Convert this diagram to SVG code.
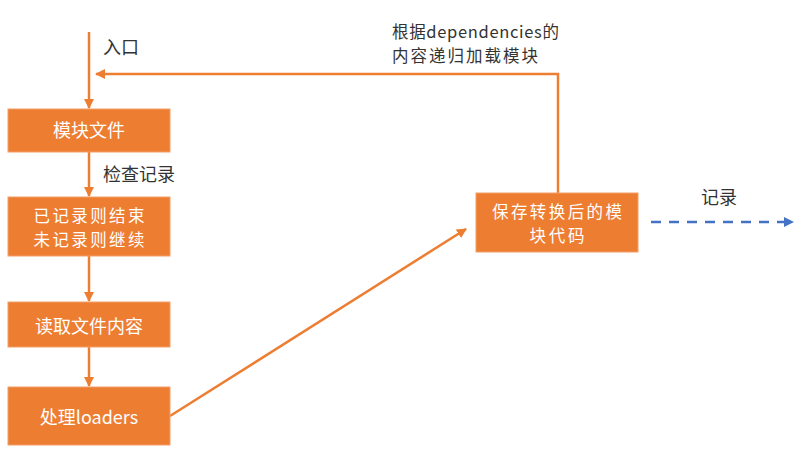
<svg xmlns="http://www.w3.org/2000/svg" width="807" height="458" viewBox="0 0 807 458">
<defs>
<style>
.box{fill:#ED7D31;stroke:#F4A06A;stroke-width:1}
.bt{fill:#fff;font-family:"Noto Sans CJK SC","Noto Sans",sans-serif;font-size:18px;text-anchor:middle}
.lb{fill:#333;font-family:"Noto Sans CJK SC","Noto Sans",sans-serif;font-size:18px}
.two{font-size:16.5px}
.ln{fill:none;stroke:#ED7D31;stroke-width:2.5}
.dl{fill:none;stroke:#4472C4;stroke-width:2.5;stroke-dasharray:10 8}
</style>
<marker id="ao" viewBox="0 0 10 10" refX="9" refY="5" markerWidth="4" markerHeight="4" orient="auto" markerUnits="strokeWidth"><path d="M0,0 L10,5 L0,10 z" fill="#ED7D31"/></marker>
<marker id="ab" viewBox="0 0 10 10" refX="9" refY="5" markerWidth="4" markerHeight="4" orient="auto" markerUnits="strokeWidth"><path d="M0,0 L10,5 L0,10 z" fill="#4472C4"/></marker>
</defs>
<rect width="807" height="458" fill="#fff"/>
<g id="connectors">
<line class="ln" x1="89" y1="32" x2="89" y2="108" marker-end="url(#ao)"/>
<line class="ln" x1="89" y1="152" x2="89" y2="196" marker-end="url(#ao)"/>
<line class="ln" x1="89" y1="256" x2="89" y2="301" marker-end="url(#ao)"/>
<line class="ln" x1="89" y1="347" x2="89" y2="386" marker-end="url(#ao)"/>
<polyline class="ln" points="558,193 558,74 96,74" marker-end="url(#ao)"/>
<line class="ln" x1="170" y1="416" x2="466" y2="229" marker-end="url(#ao)"/>
<line class="dl" x1="651" y1="222" x2="793" y2="222" marker-end="url(#ab)"/>
</g>
<g id="label-entry"><text class="lb" x="103" y="54">入口</text></g>
<g id="label-check"><text class="lb" x="103" y="181">检查记录</text></g>
<g id="label-deps"><text class="lb two" x="392" y="38"><tspan x="392" y="38" textLength="167">根据dependencies的</tspan><tspan x="392" y="62" textLength="146">内容递归加载模块</tspan></text></g>
<g id="label-record"><text class="lb" x="701" y="204">记录</text></g>
<g id="n1"><rect class="box" x="8" y="109" width="162" height="43"/><text class="bt" x="89" y="137">模块文件</text></g>
<g id="n2"><rect class="box" x="8" y="197" width="162" height="59"/><text class="bt two" x="89" y="222"><tspan x="89" y="222" textLength="111">已记录则结束</tspan><tspan x="89" y="246" textLength="111">未记录则继续</tspan></text></g>
<g id="n3"><rect class="box" x="8" y="302" width="162" height="45"/><text class="bt" x="89" y="333">读取文件内容</text></g>
<g id="n4"><rect class="box" x="8" y="387" width="162" height="58"/><text class="bt" x="89" y="424">处理loaders</text></g>
<g id="n5"><rect class="box" x="476" y="193" width="162" height="59"/><text class="bt two" x="557" y="218"><tspan x="557" y="218" textLength="130">保存转换后的模</tspan><tspan x="557" y="242" textLength="55">块代码</tspan></text></g>
</svg>
